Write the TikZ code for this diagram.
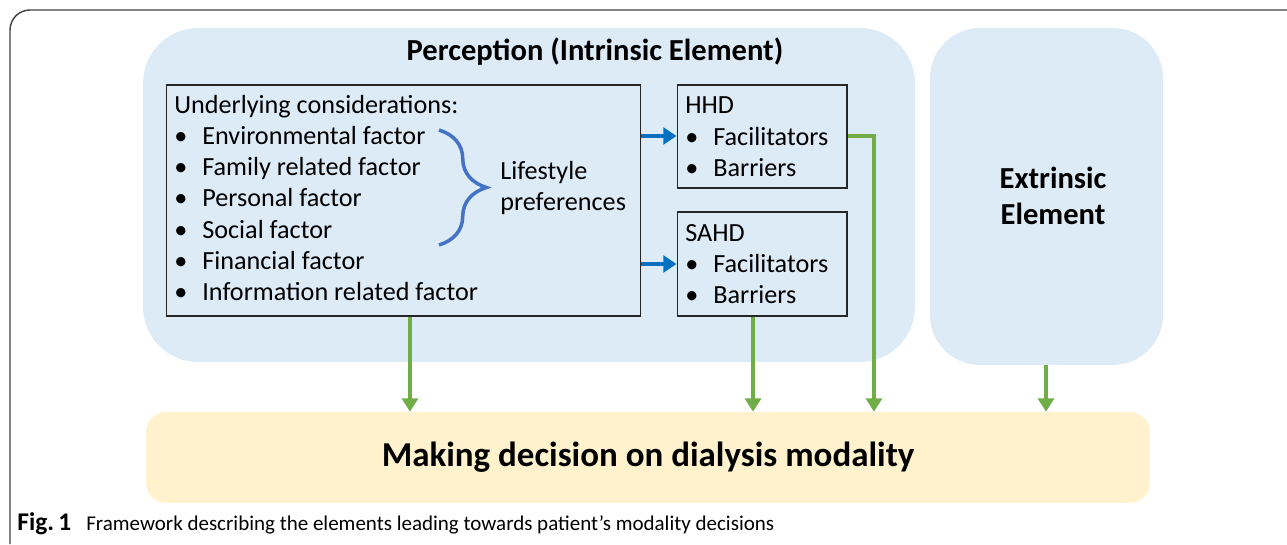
\documentclass[tikz,border=0pt]{standalone}
\usepackage{fontspec}
\setmainfont{Carlito}
\usetikzlibrary{positioning,arrows.meta,decorations.pathreplacing}
\definecolor{lightblue}{RGB}{221,235,247}
\definecolor{lightyellow}{RGB}{255,242,204}
\definecolor{bracecol}{RGB}{68,114,196}
\definecolor{arrowblue}{RGB}{0,112,192}
\definecolor{arrowgreen}{RGB}{112,173,71}
\newcommand{\bitem}[1]{\makebox[0.56cm][l]{\textbullet}#1}

\begin{document}
\begin{tikzpicture}[x=0.02cm, y=-0.02cm,
  every node/.style={font=\fontsize{14.9}{18}\selectfont, inner sep=0pt},
  element/.style={fill=lightblue, rounded corners=1.1cm},
  listbox/.style={draw=black!85, line width=0.6pt, fill=lightblue},
  line/.style={anchor=base west},
  blueflow/.style={draw=arrowblue, line width=2.1pt, -{Triangle[length=7.5pt,width=9.5pt]}},
  greenflow/.style={draw=arrowgreen, line width=2.3pt, -{Triangle[length=7.5pt,width=9pt]}}]
        \useasboundingbox (0,0) rectangle (1287,544);
        \draw[black!75, line width=0.8pt, rounded corners=0.4cm] (10,544) -- (10,10) -- (1287,10);

        % the two elements
        \node[element, minimum width=15.44cm, minimum height=6.68cm] (perception) at (529,195) {};
        \node[element, rounded corners=1cm, minimum width=4.66cm, minimum height=6.74cm] (extrinsic) at (1046.5,196.5) {};
        \node[font=\fontsize{17.4}{20}\selectfont\bfseries] (ptitle) at (595,52) {Perception (Intrinsic Element)};
        \node[font=\fontsize{17.4}{20.5}\selectfont\bfseries, align=center] (etitle) at (1053,196) {Extrinsic\\Element};

        % boxes inside perception
        \node[listbox, minimum width=9.5cm, minimum height=4.62cm] (under) at (403.5,200.5) {};
        \node[listbox, minimum width=3.4cm, minimum height=2.06cm] (hhd) at (762,136.5) {};
        \node[listbox, minimum width=3.4cm, minimum height=2.08cm] (sahd) at (762,264) {};

        \node[line] (u0) at (174,113) {Underlying considerations:};
        \node[line] (u1) at (174,144) {\bitem{Environmental factor}};
        \node[line] (u2) at (174,175) {\bitem{Family related factor}};
        \node[line] (u3) at (174,206) {\bitem{Personal factor}};
        \node[line] (u4) at (174,238) {\bitem{Social factor}};
        \node[line] (u5) at (174,269) {\bitem{Financial factor}};
        \node[line] (u6) at (174,300) {\bitem{Information related factor}};

        \draw[bracecol, line width=2pt, decorate, decoration={brace, amplitude=0.95cm}] (439,130) -- (439,245);
        \node[anchor=west, align=left, font=\fontsize{14.9}{17.8}\selectfont] (life) at (500,188) {Lifestyle\\preferences};

        \node[line] (h0) at (685,113) {HHD};
        \node[line] (h1) at (685,145) {\bitem{Facilitators}};
        \node[line] (h2) at (685,176) {\bitem{Barriers}};
        \node[line] (s0) at (685,241) {SAHD};
        \node[line] (s1) at (685,272) {\bitem{Facilitators}};
        \node[line] (s2) at (685,303) {\bitem{Barriers}};

        % decision
        \node[fill=lightyellow, rounded corners=0.4cm, minimum width=20.08cm, minimum height=1.82cm,
              font=\fontsize{19.9}{24}\selectfont\bfseries] (decision) at (648,457.5) {Making decision on dialysis modality};

        % connectors
        \coordinate (hturn) at (874,136);
        \draw[blueflow] (under.east |- 0,136) -- (hhd.west |- 0,136);
        \draw[blueflow] (under.east |- 0,264) -- (sahd.west |- 0,264);
        \draw[greenflow] (under.south -| 410,0) -- (decision.north -| 410,0);
        \draw[greenflow] (sahd.south -| 753,0) -- (decision.north -| 753,0);
        \draw[greenflow] (hhd.east |- hturn) -- (hturn) -- (hturn |- decision.north);
        \draw[greenflow] (extrinsic.south -| 1046,0) -- (decision.north -| 1046,0);

        % caption
        \node[anchor=base west, font=\fontsize{11.95}{14}\selectfont] (caption) at (17,530) {{\fontsize{14.5}{14}\selectfont\bfseries Fig.\,1}\hspace{0.3cm}Framework describing the elements leading towards patient’s modality decisions};
\end{tikzpicture}
\end{document}
